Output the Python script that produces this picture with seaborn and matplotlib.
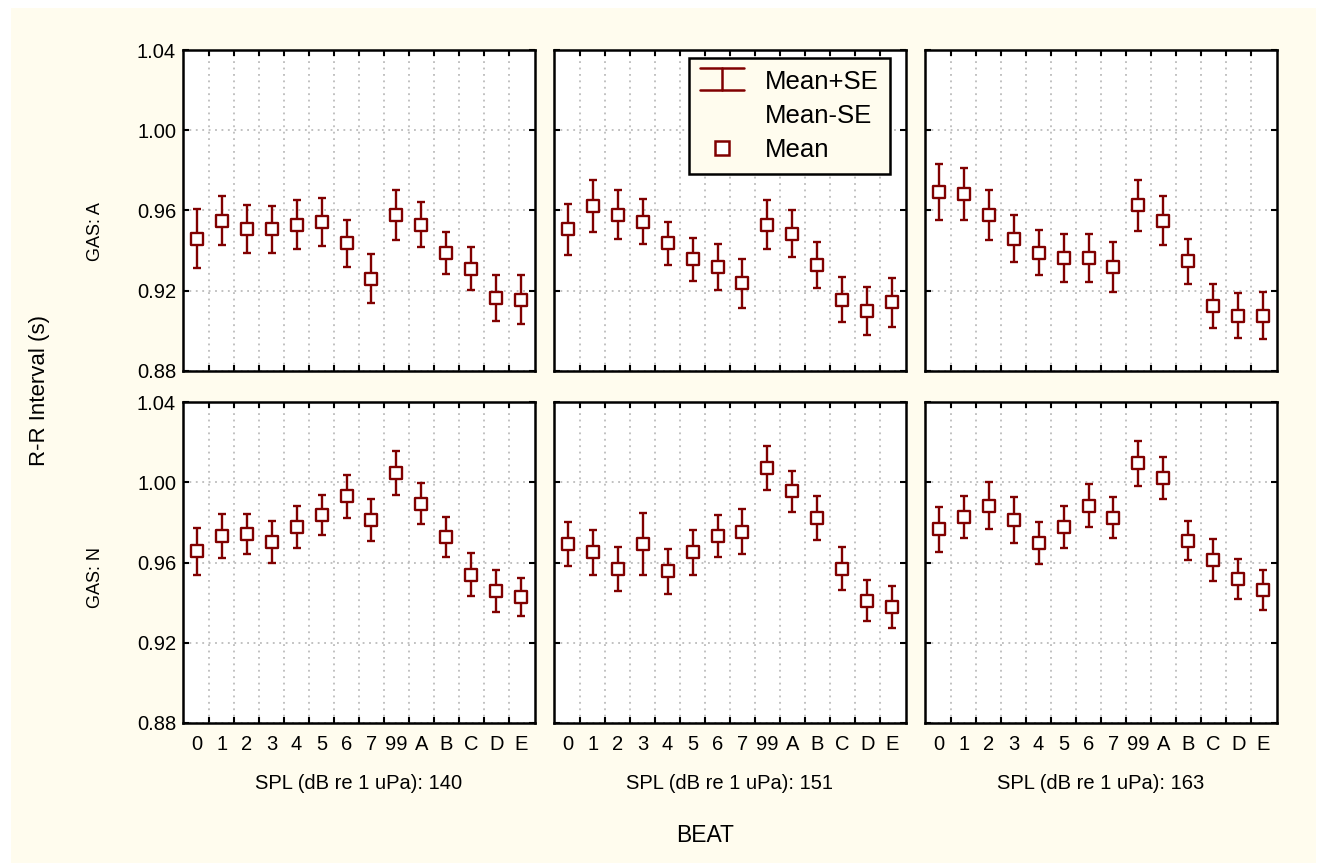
import numpy as np
import pandas as pd
import matplotlib
matplotlib.use("Agg")
import matplotlib.pyplot as plt
from matplotlib.legend_handler import HandlerBase
from matplotlib.lines import Line2D
from matplotlib.patches import Rectangle
from matplotlib.ticker import FormatStrFormatter
import seaborn as sns

# ---------------- data ----------------
beats = ["0", "1", "2", "3", "4", "5", "6", "7", "99", "A", "B", "C", "D", "E"]
spl_levels = [140, 151, 163]
gas_levels = ["A", "N"]

mean_A_140 = [0.946, 0.955, 0.9506, 0.9506, 0.9529, 0.9542, 0.9436, 0.926, 0.9577, 0.953, 0.939, 0.931, 0.9163, 0.9156]
se_A_140 = [0.0147, 0.0124, 0.012, 0.0117, 0.0121, 0.012, 0.0119, 0.0121, 0.0125, 0.0114, 0.0105, 0.0107, 0.0114, 0.0122]

mean_A_151 = [0.9506, 0.9621, 0.958, 0.9545, 0.9436, 0.9357, 0.9319, 0.9238, 0.953, 0.9484, 0.933, 0.9156, 0.9097, 0.9143]
se_A_151 = [0.0127, 0.013, 0.0122, 0.0112, 0.0109, 0.0106, 0.0115, 0.0122, 0.0122, 0.0118, 0.0115, 0.0113, 0.012, 0.0123]

mean_A_163 = [0.9694, 0.9683, 0.9579, 0.946, 0.939, 0.9364, 0.9364, 0.9319, 0.9625, 0.955, 0.9346, 0.9124, 0.9076, 0.9076]
se_A_163 = [0.014, 0.0131, 0.0124, 0.0116, 0.0112, 0.0118, 0.0118, 0.0124, 0.0125, 0.0121, 0.0112, 0.0109, 0.0112, 0.0118]

mean_N_140 = [0.9656, 0.9732, 0.9742, 0.9702, 0.9777, 0.9836, 0.9929, 0.9813, 1.0046, 0.9894, 0.9727, 0.954, 0.946, 0.943]
se_N_140 = [0.0116, 0.011, 0.0102, 0.0104, 0.0104, 0.0099, 0.0105, 0.0105, 0.0109, 0.0101, 0.01, 0.0105, 0.0105, 0.0095]

mean_N_151 = [0.9694, 0.9651, 0.9568, 0.9694, 0.9556, 0.9651, 0.9733, 0.9754, 1.007, 0.9954, 0.982, 0.957, 0.941, 0.938]
se_N_151 = [0.011, 0.0111, 0.0109, 0.0155, 0.0111, 0.0111, 0.0106, 0.0112, 0.011, 0.0102, 0.0109, 0.0105, 0.0103, 0.0105]

mean_N_163 = [0.9765, 0.9826, 0.9884, 0.9813, 0.9697, 0.9776, 0.9884, 0.9824, 1.0094, 1.0022, 0.9708, 0.9614, 0.9516, 0.9462]
se_N_163 = [0.0114, 0.0106, 0.0119, 0.0115, 0.0105, 0.0105, 0.0106, 0.0103, 0.0111, 0.0106, 0.0098, 0.0104, 0.01, 0.01]

yticks = [0.88, 0.92, 0.96, 1.00, 1.04]

series = {
    ("A", 140): (mean_A_140, se_A_140),
    ("A", 151): (mean_A_151, se_A_151),
    ("A", 163): (mean_A_163, se_A_163),
    ("N", 140): (mean_N_140, se_N_140),
    ("N", 151): (mean_N_151, se_N_151),
    ("N", 163): (mean_N_163, se_N_163),
}

rows = []
for (gas, spl), (m, s) in series.items():
    for b, mv, sv in zip(beats, m, s):
        rows.append(dict(GAS=gas, SPL=spl, BEAT=b, mean=mv, se=sv))
df = pd.DataFrame(rows)
df["pos"] = df["BEAT"].map({b: i for i, b in enumerate(beats)})

# ---------------- style ----------------
BG = "#FFFCEE"
RED = "#800000"
sns.set_theme(style="white")
plt.rcParams["font.family"] = ["Liberation Sans", "DejaVu Sans"]
plt.rcParams["text.color"] = "black"
plt.rcParams["axes.labelcolor"] = "black"
plt.rcParams["xtick.color"] = "black"
plt.rcParams["ytick.color"] = "black"

fig, axes = plt.subplots(2, 3, figsize=(13.21, 8.67), dpi=100, sharex=True, sharey=True)
fig.patch.set_facecolor("white")
fig.patches.append(Rectangle((11 / 1321, 4 / 867), (1321 - 11 - 5) / 1321, (867 - 4 - 8) / 867,
                             transform=fig.transFigure, facecolor=BG, edgecolor="none", zorder=-10))
fig.subplots_adjust(left=183 / 1321, right=1277 / 1321, bottom=1 - 723 / 867, top=1 - 50 / 867,
                    wspace=0.054, hspace=0.0966)

grid_style = dict(linestyle=(0, (1.2, 3.0)), color="#B0B0B0", linewidth=1.1)

for i, gas in enumerate(gas_levels):
    for j, spl in enumerate(spl_levels):
        ax = axes[i, j]
        sub = df[(df.GAS == gas) & (df.SPL == spl)]
        ax.set_facecolor("white")
        ax.errorbar(sub["pos"], sub["mean"], yerr=sub["se"], fmt="none", ecolor=RED,
                    elinewidth=1.7, capsize=2.8, capthick=1.7, zorder=3)
        sns.scatterplot(data=sub, x="pos", y="mean", marker="s", s=78, color="white",
                        edgecolor=RED, linewidth=1.7, ax=ax, zorder=4, legend=False)
        ax.set_xlim(-0.55, 13.55)
        ax.set_ylim(0.88, 1.04)
        ax.set_yticks(yticks)
        ax.yaxis.set_major_formatter(FormatStrFormatter("%.2f"))
        ax.set_xticks(range(len(beats)))
        ax.set_xticklabels(beats)
        ax.set_xticks(np.arange(0.5, len(beats) - 1, 1.0), minor=True)
        ax.tick_params(axis="x", which="major", length=0, pad=9, labelsize=14.5)
        ax.tick_params(axis="x", which="minor", direction="in", length=4, width=1.5,
                       top=True, bottom=True)
        ax.tick_params(axis="y", which="major", direction="in", length=4, width=1.5,
                       left=True, right=True, labelsize=14.5, pad=5)
        ax.grid(False)
        ax.grid(True, which="minor", axis="x", **grid_style)
        ax.grid(True, which="major", axis="y", **grid_style)
        ax.set_axisbelow(True)
        for sp in ax.spines.values():
            sp.set_linewidth(1.8)
            sp.set_color("black")
            sp.set_zorder(5)
        ax.set_ylabel("")
        if i == 1:
            ax.set_xlabel(f"SPL (dB re 1 uPa): {spl}", fontsize=14.5, labelpad=14)
        else:
            ax.set_xlabel("")


class IBeamHandler(HandlerBase):
    def create_artists(self, legend, orig_handle, xdescent, ydescent, width, height, fontsize, trans):
        x0, x1 = -xdescent, -xdescent + width
        cx = (x0 + x1) / 2
        yb = -ydescent - 0.1 * height
        yt = -ydescent + 1.15 * height
        kw = dict(color=RED, linewidth=1.8, transform=trans)
        return [Line2D([x0, x1], [yt, yt], **kw),
                Line2D([x0, x1], [yb, yb], **kw),
                Line2D([cx, cx], [yb, yt], **kw)]


h_err = Line2D([], [], color=RED)
h_blank = Line2D([], [], linestyle="none")
h_mean = Line2D([], [], marker="s", linestyle="none", markerfacecolor="white",
                markeredgecolor=RED, markeredgewidth=1.8, markersize=10)
leg = axes[0, 1].legend([h_err, h_blank, h_mean], ["Mean+SE", "Mean-SE", "Mean"],
                        handler_map={h_err: IBeamHandler()}, loc="upper right",
                        bbox_to_anchor=((891 - 555) / 352, (371 - 58) / 321), borderaxespad=0,
                        fontsize=18.5, frameon=True, fancybox=False, edgecolor="black",
                        facecolor=BG, framealpha=1, handlelength=1.7, handletextpad=0.8,
                        labelspacing=0.4, borderpad=0.45)
leg.get_frame().set_linewidth(1.8)
leg.set_zorder(10)

fig.text(40 / 1321, 1 - 390 / 867, "R-R Interval (s)", rotation=90, ha="center", va="center", fontsize=16)
fig.text(95 / 1321, 1 - 232 / 867, "GAS: A", rotation=90, ha="center", va="center", fontsize=13)
fig.text(95 / 1321, 1 - 578 / 867, "GAS: N", rotation=90, ha="center", va="center", fontsize=13)
fig.text(705 / 1321, 1 - 835 / 867, "BEAT", ha="center", va="center", fontsize=16.5)

fig.savefig("out.png", dpi=100, facecolor=fig.get_facecolor())
